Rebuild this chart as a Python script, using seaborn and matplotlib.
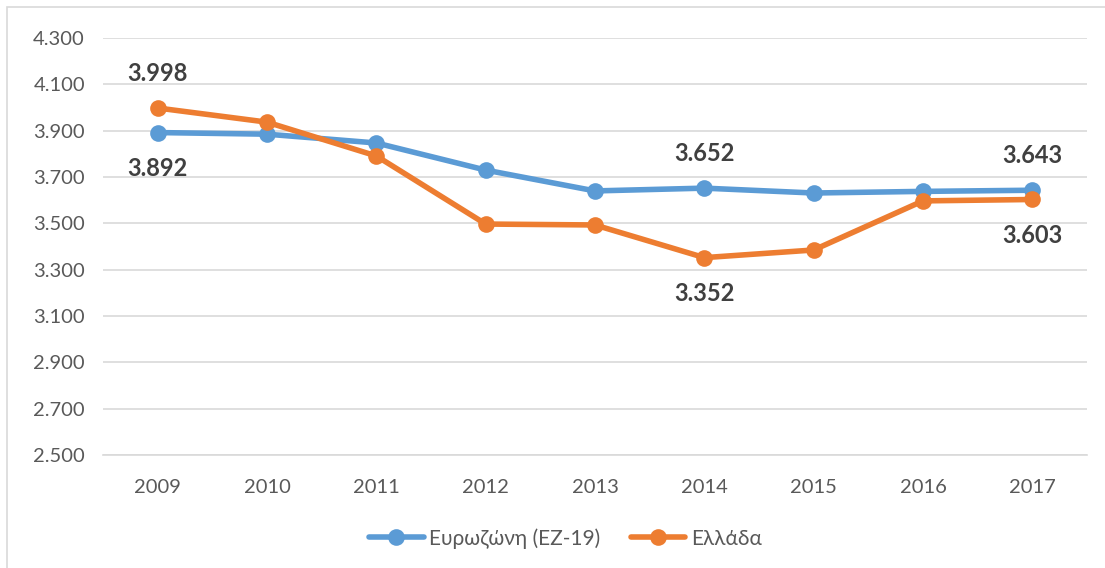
import pandas as pd
import numpy as np
import matplotlib
matplotlib.use('Agg')
import matplotlib.pyplot as plt
import seaborn as sns
from matplotlib.patches import Rectangle

years = [2009, 2010, 2011, 2012, 2013, 2014, 2015, 2016, 2017]
eurozone = [3892, 3885, 3847, 3730, 3640, 3652, 3631, 3638, 3643]
greece = [3998, 3937, 3791, 3497, 3493, 3352, 3385, 3597, 3603]
series_names = ['Ευρωζώνη (ΕΖ-19)', 'Ελλάδα']
colors = ['#5B9BD5', '#ED7D31']
yticks = [2500, 2700, 2900, 3100, 3300, 3500, 3700, 3900, 4100, 4300]

# which points get a label, and whether it sits above or below
labels_eu = {2009: 'below', 2014: 'above', 2017: 'above'}
labels_gr = {2009: 'above', 2014: 'below', 2017: 'below'}

df = pd.DataFrame({'year': years * 2,
                   'value': eurozone + greece,
                   'series': [series_names[0]] * len(years) + [series_names[1]] * len(years)})

sns.set_theme(style='white')
plt.rcParams['font.family'] = ['Lato', 'DejaVu Sans']

fig = plt.figure(figsize=(11.05, 5.68), dpi=100)
ax = fig.add_axes([0.0932, 0.199, 0.8905, 0.734])

sns.lineplot(data=df, x='year', y='value', hue='series', palette=colors,
             marker='o', markersize=12, markeredgewidth=0, linewidth=4,
             ax=ax, legend=True)

ax.set_xlim(2008.5, 2017.5)
ax.set_ylim(2500, 4300)
ax.set_yticks(yticks)
ax.set_yticklabels([f'{v:,}'.replace(',', '.') for v in yticks])
ax.set_xticks(years)
ax.set_xticklabels([str(y) for y in years])
ax.tick_params(axis='both', labelsize=14.5, labelcolor='#595959', length=0)
ax.tick_params(axis='x', pad=17)
ax.tick_params(axis='y', pad=13)
ax.grid(axis='y', color='#D9D9D9', linewidth=1.2)
ax.set_axisbelow(True)
for s in ['left', 'right', 'top']:
    ax.spines[s].set_visible(False)
ax.spines['bottom'].set_color('#D9D9D9')
ax.spines['bottom'].set_linewidth(1.2)
ax.set_xlabel('')
ax.set_ylabel('')

def add_labels(vals, where):
    for yr, pos in where.items():
        v = vals[years.index(yr)]
        off = 25 if pos == 'above' else -26
        ax.annotate(f'{v:,}'.replace(',', '.'), (yr, v), xytext=(0, off),
                    textcoords='offset points', ha='center', va='center',
                    fontsize=17, fontweight='bold', color='#404040')

add_labels(eurozone, labels_eu)
add_labels(greece, labels_gr)

handles, lbls = ax.get_legend_handles_labels()
ax.legend(handles, lbls, loc='center', bbox_to_anchor=(0.47, -0.2),
          ncol=2, frameon=False, fontsize=15, labelcolor='#595959',
          handlelength=2.6, handletextpad=0.25, columnspacing=1.5)

fig.patches.append(Rectangle((0.006, -0.01), 0.995, 0.998, transform=fig.transFigure,
                             fill=False, edgecolor='#D9D9D9', linewidth=1.2))

fig.savefig('out.png', dpi=100)
